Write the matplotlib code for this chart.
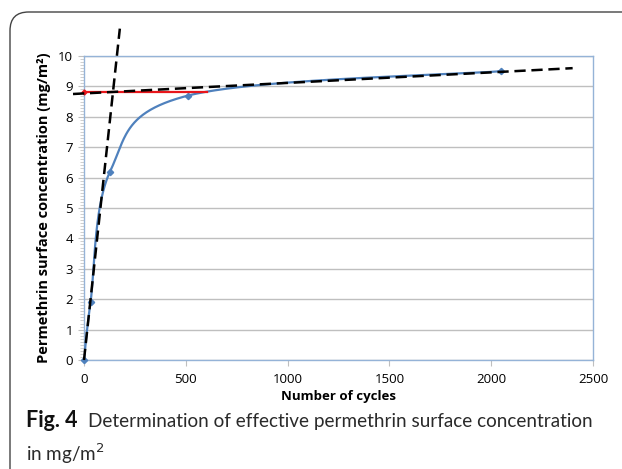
import numpy as np
import matplotlib
matplotlib.use("Agg")
import matplotlib.pyplot as plt
from matplotlib.patches import FancyBboxPatch
from matplotlib.ticker import MultipleLocator

# ---- data ----
cycles = [0, 32, 128, 512, 2048]
conc = [0.0, 1.9, 6.2, 8.7, 9.5]
plateau_x = [0, 605]
plateau_y = [8.8, 8.8]
steep_x = [0, 176]
steep_y = [0.0, 10.9]
slow_x = [-54, 2400]
slow_y = [8.75, 9.6]
xticks = [0, 500, 1000, 1500, 2000, 2500]
yticks = list(range(0, 11))

plt.rcParams['font.family'] = ['Open Sans', 'DejaVu Sans']

fig = plt.figure(figsize=(6.22, 4.69), dpi=100)
ax = fig.add_axes([84/622, 1-360/469, (593-84)/622, (360-56)/469])

# smoothed line (Excel-like Catmull-Rom bezier through points)
P = np.column_stack([cycles, conc]).astype(float)
xs, ys = [], []
t = np.linspace(0, 1, 80)
for i in range(len(P)-1):
    p0 = P[i-1] if i > 0 else P[i]
    p1 = P[i]; p2 = P[i+1]
    p3 = P[i+2] if i+2 < len(P) else P[i+1]
    c1 = p1 + (p2-p0)/6
    c2 = p2 - (p3-p1)/6
    b = ((1-t)**3)[:, None]*p1 + (3*(1-t)**2*t)[:, None]*c1 + (3*(1-t)*t**2)[:, None]*c2 + (t**3)[:, None]*p2
    xs.extend(b[:, 0]); ys.extend(b[:, 1])

ax.plot(xs, ys, color='#4F81BD', lw=1.6, zorder=3)
ax.plot(cycles, conc, ls='none', marker='D', ms=3.2, color='#4F81BD', zorder=4, clip_on=False)
ax.plot(plateau_x, plateau_y, color='#E8161B', lw=1.6, zorder=5)
ax.plot(plateau_x[:1], plateau_y[:1], ls='none', marker='D', ms=2.5, color='#E8161B', zorder=5, clip_on=False)
dash = (0, (4.5, 2.3))
ax.plot(steep_x, steep_y, color='black', lw=1.8, ls=dash, zorder=6, clip_on=False)
ax.plot(slow_x, slow_y, color='black', lw=1.8, ls=dash, zorder=6, clip_on=False)

ax.set_xlim(0, 2500)
ax.set_ylim(0, 10)
ax.set_xticks(xticks)
ax.set_yticks(yticks)
ax.yaxis.set_minor_locator(MultipleLocator(0.1))
ax.grid(axis='y', color='#BFBFBF', lw=1.0, zorder=0)
for s in ax.spines.values():
    s.set_color('#95B3D7')
    s.set_linewidth(1.0)
ax.tick_params(axis='x', which='major', length=4, color='#BFBFBF', labelsize=9.5, pad=5)
ax.tick_params(axis='y', which='major', length=4, color='#BFBFBF', labelsize=9.5, pad=4)
ax.tick_params(axis='y', which='minor', length=3, color='#C8C8C8', width=0.6)
ax.set_xlabel('Number of cycles', fontsize=9.5, fontweight='bold', labelpad=3)
ax.set_ylabel('Permethrin surface concentration (mg/m²)', fontsize=10.5, fontweight='bold', labelpad=5)

# outer rounded frame
box = FancyBboxPatch((10/622, -0.1), 1.2, (469-12)/469 + 0.1,
                     boxstyle='round,pad=0,rounding_size=0.03',
                     transform=fig.transFigure, fill=False, ec='#444444', lw=1.0,
                     clip_on=False, mutation_aspect=622/469)
fig.patches.append(box)

# caption
cap_font = ['Lato', 'DejaVu Sans']
fig.text(26/622, 1-427/469, 'Fig. 4', fontsize=15.5, fontweight='bold', va='baseline', ha='left',
         color='#111111', family=cap_font)
fig.text(88/622, 1-427/469, 'Determination of effective permethrin surface concentration',
         fontsize=13.6, va='baseline', ha='left', color='#2a2a2a', family=cap_font)
fig.text(26/622, 1-461/469, 'in mg/m$^2$', fontsize=13.6, va='baseline', ha='left',
         color='#2a2a2a', family=cap_font)

fig.savefig('out.png', dpi=100)
